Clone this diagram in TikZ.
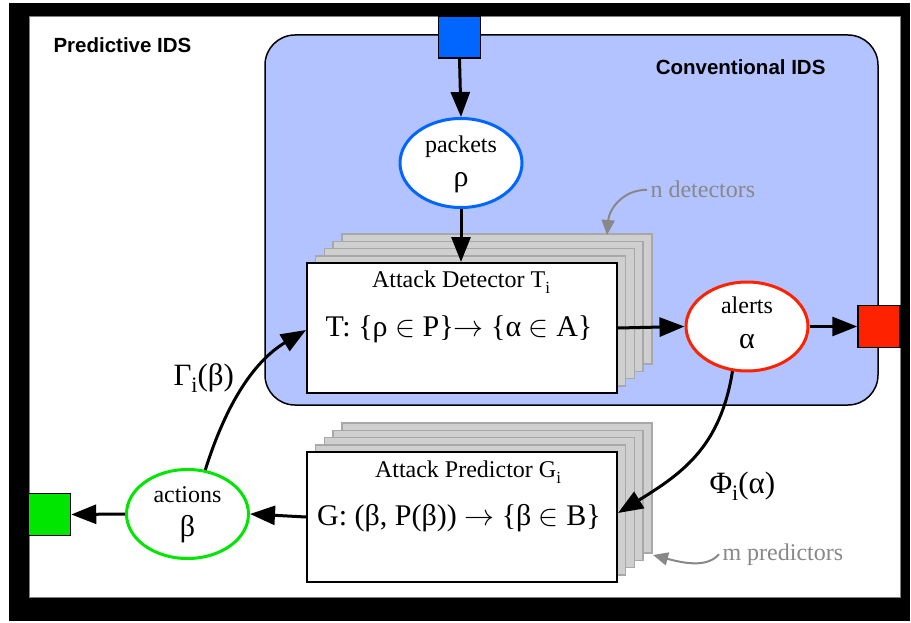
\RequirePackage{fix-cm}
\documentclass[tikz,border=0pt]{standalone}
\usepackage{fontspec}
\setmainfont{Liberation Serif}
\newfontfamily\headsans{Liberation Sans}
\usetikzlibrary{shapes.geometric,arrows.meta}

\definecolor{idsfill}{HTML}{B3C3FF}
\definecolor{pktblue}{HTML}{0066FF}
\definecolor{alertred}{HTML}{FF2200}
\definecolor{actgreen}{HTML}{00E600}
\definecolor{sheetfill}{HTML}{CFCFCF}
\definecolor{sheetedge}{HTML}{A8A8A8}
\definecolor{notegray}{HTML}{888888}

\newcommand{\fs}[1]{\fontsize{#1}{#1}\selectfont}
% lowered subscript: size, drop, text
\newcommand{\lowsub}[3]{\raisebox{-#2pt}{\fontsize{#1}{#1}\selectfont #3}}

\tikzset{
  flow/.style={line width=3pt,-{Triangle[length=25pt,width=19pt]}},
  noteflow/.style={line width=2pt,draw=notegray,-{Triangle[length=15pt,width=13pt]}},
  port/.style={draw=black,line width=1.5pt,minimum width=42pt,minimum height=42pt,inner sep=0pt},
  dataset/.style={ellipse,fill=white,line width=3pt,minimum width=122pt,minimum height=89pt,inner sep=0pt},
  engine/.style={draw=black,fill=white,line width=2pt,minimum width=310pt,minimum height=130pt,inner sep=0pt},
  sheet/.style={draw=sheetedge,fill=sheetfill,line width=1.5pt,minimum width=310pt,minimum height=130pt,inner sep=0pt},
  note/.style={text=notegray,font=\fs{24}},
  heading/.style={font=\headsans\bfseries\fs{20.5}}
}

\begin{document}
\begin{tikzpicture}[x=1pt,y=-1pt]
  % canvas and thick outer frame
  \fill[white] (0,0) rectangle (911,623);
  \useasboundingbox (0,0) rectangle (911,623);
  \fill[black] (9,3) rectangle (910,621);
  \fill[white] (29,16) rectangle (900,597);
  \draw[gray,line width=0.6pt] (29,16) rectangle (900,597);

  % conventional IDS region
  \draw[fill=idsfill,line width=1.5pt,rounded corners=30pt] (265,35) rectangle (878,405);
  \node[heading,anchor=base west] (predlbl) at (50,53) {Predictive IDS};
  \node[heading,anchor=base east] (convlbl) at (829,75) {Conventional IDS};

  % input / output ports
  \node[port,fill=pktblue]   (inport)  at (459.5,37) {};
  \node[port,fill=alertred]  (outport) at (879,326.5) {};
  \node[port,fill=actgreen]  (actport) at (49.5,514.5) {};

  % stacked detectors
  \foreach \k in {4,3,2,1}
    \node[sheet] (dsheet\k) at ({462+8.7*\k},{328-7.2*\k}) {};
  \node[engine] (det) at (462,328) {};
  \node[anchor=base] (dettitle) at (461,287) {\fs{24}Attack Detector T\lowsub{17}{6}{i}};
  \node[anchor=base] (detmap) at (459,336) {\fs{30}T:\ \{ρ $\in$ P\}$\rightarrow$ \{α $\in$ A\}};

  % stacked predictors
  \foreach \k in {4,3,2,1}
    \node[sheet] (psheet\k) at ({462+8.7*\k},{517-7.2*\k}) {};
  \node[engine] (pred) at (462,517) {};
  \node[anchor=base] (predtitle) at (468,477) {\fs{24}Attack Predictor G\lowsub{17}{6}{i}};
  \node[anchor=base] (predmap) at (459,525) {\fs{30}G: (β, P(β)) $\rightarrow$ \{β $\in$ B\}};

  % data sets
  \node[dataset,draw=pktblue] (pk) at (461,163) {};
  \node[anchor=base] (pktxt) at ([yshift=10pt]pk.center) {\fs{24}packets};
  \node[anchor=base] (pksym) at ([yshift=-23pt]pk.center) {\fs{30}ρ};

  \node[dataset,draw=alertred] (al) at (747,326.5) {};
  \node[anchor=base] (altxt) at ([yshift=13pt]al.center) {\fs{24}alerts};
  \node[anchor=base] (alsym) at ([yshift=-22pt]al.center) {\fs{30}α};

  \node[dataset,draw=actgreen] (ac) at (187.5,514) {};
  \node[anchor=base] (actxt) at ([yshift=12pt]ac.center) {\fs{24}actions};
  \node[anchor=base] (acsym) at ([yshift=-22pt]ac.center) {\fs{30}β};

  % main flow
  \draw[flow] (inport.south) -- (pk.north);
  \draw[flow] (pk.south) -- (det.north -| pk.south);
  \draw[flow] (det.east) -- (al.west);
  \draw[flow] (al.east) -- (outport.west);
  \draw[flow] (pred.west) -- (ac.east);
  \draw[flow] (ac.west) -- (actport.east);

  % feedback loops
  \coordinate (predin) at ([yshift=4pt]pred.east);
  \coordinate (detin) at ([yshift=-2pt]det.west);
  \draw[flow] (al.252) .. controls +(-12,75) and +(65,-40) .. (predin);
  \draw[flow] (ac.68) .. controls +(22,-70) and +(-50,30) .. (detin);
  \node[anchor=base west] (philbl) at (706,493) {\fs{31}Φ\lowsub{22}{7}{i}(α)};
  \node[anchor=base west] (gamlbl) at (170,385) {\fs{31}Γ\lowsub{22}{7}{i}(β)};

  % stack annotations
  \node[note,anchor=base west] (ndet) at (647,198) {n detectors};
  \coordinate (ndettip) at (607,235);
  \draw[noteflow] (ndet.west) .. controls +(-25,0) and +(2,-25) .. (ndettip);
  \node[note,anchor=base west] (mpred) at (719,560) {m predictors};
  \coordinate (mpredtip) at (653,555);
  \draw[noteflow] (mpred.west) .. controls +(-12,14) and +(30,8) .. (mpredtip);
\end{tikzpicture}
\end{document}
